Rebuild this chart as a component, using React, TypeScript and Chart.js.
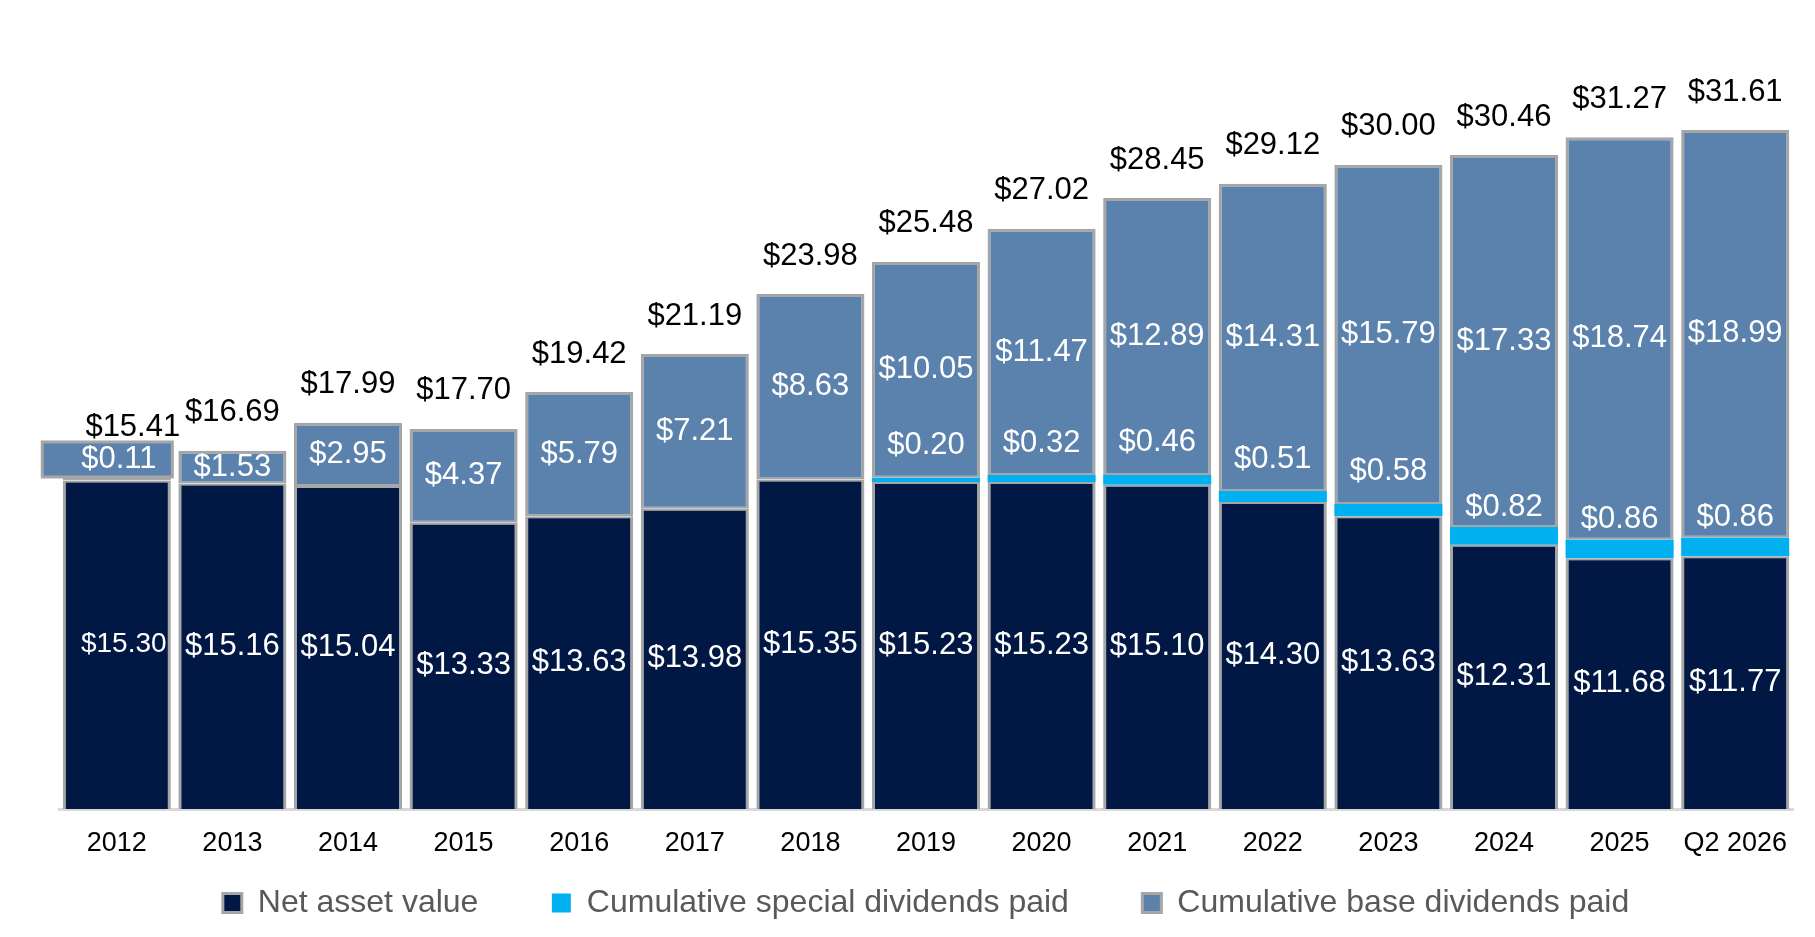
import React, { useEffect, useRef } from 'react';
import { Chart, registerables } from 'chart.js';

Chart.register(...registerables);

// --- data ---
const years = ['2012', '2013', '2014', '2015', '2016', '2017', '2018', '2019', '2020', '2021', '2022', '2023', '2024', '2025', 'Q2 2026'];
const navValues = [15.30, 15.16, 15.04, 13.33, 13.63, 13.98, 15.35, 15.23, 15.23, 15.10, 14.30, 13.63, 12.31, 11.68, 11.77];
const specialValues = [0, 0, 0, 0, 0, 0, 0, 0.20, 0.32, 0.46, 0.51, 0.58, 0.82, 0.86, 0.86];
const baseValues = [0.11, 1.53, 2.95, 4.37, 5.79, 7.21, 8.63, 10.05, 11.47, 12.89, 14.31, 15.79, 17.33, 18.74, 18.99];
const totalValues = [15.41, 16.69, 17.99, 17.70, 19.42, 21.19, 23.98, 25.48, 27.02, 28.45, 29.12, 30.00, 30.46, 31.27, 31.61];

const FONT = '"Liberation Sans", Arial, Helvetica, sans-serif';
const NAVY = '#001843';
const CYAN = '#00b0f0';
const STEEL = '#5a82ac';
const EDGE = '#a6a6a6';

const money = (v: number) => '$' + v.toFixed(2);

// labels inside / above the stacks
const valueLabels = {
  id: 'valueLabels',
  afterDatasetsDraw(chart: any) {
    const ctx = chart.ctx;
    const navMeta = chart.getDatasetMeta(0);
    const specMeta = chart.getDatasetMeta(1);
    const baseMeta = chart.getDatasetMeta(2);
    ctx.save();
    ctx.textAlign = 'center';
    ctx.textBaseline = 'middle';

    years.forEach((_, i) => {
      const nav = navMeta.data[i];
      const spec = specMeta.data[i];
      const base = baseMeta.data[i];
      if (!nav || !base) return;

      // NAV value in the middle of the navy block
      ctx.fillStyle = '#ffffff';
      ctx.font = (i === 0 ? '28px ' : '31px ') + FONT;
      ctx.fillText(money(navValues[i]), nav.x + (i === 0 ? 7 : 0), (nav.y + nav.base) / 2);
      ctx.font = '31px ' + FONT;

      // special dividends sit just above the cyan strip
      if (specialValues[i] > 0 && spec) {
        const lift = specialValues[i] < 0.6 ? 32 : 20;
        ctx.fillText(money(specialValues[i]), spec.x, spec.y - lift);
      }

      let totalY = base.y - 38;
      let totalX = base.x;
      if (baseValues[i] < 0.5) {
        // value too small for its segment: draw it in a callout box
        const left = base.x - base.width / 2 - 22;
        const right = base.x + base.width / 2 + 3;
        const bottom = base.base - 2;
        const top = bottom - 38;
        ctx.fillStyle = EDGE;
        ctx.fillRect(left, top, right - left, bottom - top);
        ctx.fillStyle = STEEL;
        ctx.fillRect(left + 3, top + 3, right - left - 6, bottom - top - 6);
        ctx.fillStyle = '#ffffff';
        ctx.fillText(money(baseValues[i]), base.x + 2, (top + bottom) / 2);
        totalY = top - 13;
        totalX = base.x + 16;
      } else {
        ctx.fillText(money(baseValues[i]), base.x, (base.y + base.base) / 2);
      }

      ctx.fillStyle = '#000000';
      ctx.fillText(money(totalValues[i]), totalX, totalY);
    });
    ctx.restore();
  },
};

export default function App() {
  const canvasRef = useRef<HTMLCanvasElement>(null);

  useEffect(() => {
    document.body.style.margin = '0';
    const ctx = canvasRef.current?.getContext('2d');
    if (!ctx) return;

    Chart.defaults.font.family = FONT;
    const defaultLabels = Chart.defaults.plugins.legend.labels.generateLabels;

    const chart = new Chart(ctx, {
      type: 'bar',
      data: {
        labels: years,
        datasets: [
          {
            label: 'Net asset value',
            data: navValues,
            backgroundColor: NAVY,
            borderColor: EDGE,
            borderWidth: { top: 2, left: 3, right: 3, bottom: 0 },
            borderSkipped: false,
          },
          {
            label: 'Cumulative special dividends paid',
            data: specialValues,
            backgroundColor: CYAN,
            borderWidth: 0,
          },
          {
            label: 'Cumulative base dividends paid',
            data: baseValues,
            backgroundColor: STEEL,
            borderColor: EDGE,
            borderWidth: { top: 3, left: 3, right: 3, bottom: 2 },
            borderSkipped: false,
          },
        ],
      },
      options: {
        animation: false,
        responsive: true,
        maintainAspectRatio: false,
        layout: { padding: { top: 36, left: 59, right: 22, bottom: 8 } },
        datasets: { bar: { barPercentage: 0.935, categoryPercentage: 1 } },
        plugins: {
          legend: {
            position: 'bottom',
            labels: {
              color: '#595959',
              font: { size: 32, family: FONT },
              boxWidth: 19,
              boxHeight: 19,
              padding: 29,
              // wider gaps between items than the vertical padding allows
              generateLabels: (c: any) =>
                defaultLabels(c).map((item: any, i: number, all: any[]) => ({
                  ...item,
                  lineWidth: item.lineWidth ? 3 : 0,
                  text: i < all.length - 1 ? item.text + '     ' : item.text,
                })),
            },
          },
          tooltip: { enabled: false },
        },
        scales: {
          x: {
            stacked: true,
            grid: { display: false, drawTicks: false },
            border: { display: true, color: '#d9d9d9', width: 3 },
            ticks: { color: '#000000', font: { size: 27, family: FONT }, padding: 18, maxRotation: 0, autoSkip: false },
            afterFit: (scale: any) => {
              scale.height = 49;
            },
          },
          y: {
            stacked: true,
            display: false,
            min: 0,
            max: 36,
          },
        },
      },
      plugins: [valueLabels],
    });

    return () => chart.destroy();
  }, []);

  return (
    <div style={{ position: 'relative', width: 1815, height: 937, background: '#ffffff' }}>
      <canvas ref={canvasRef} />
    </div>
  );
}
